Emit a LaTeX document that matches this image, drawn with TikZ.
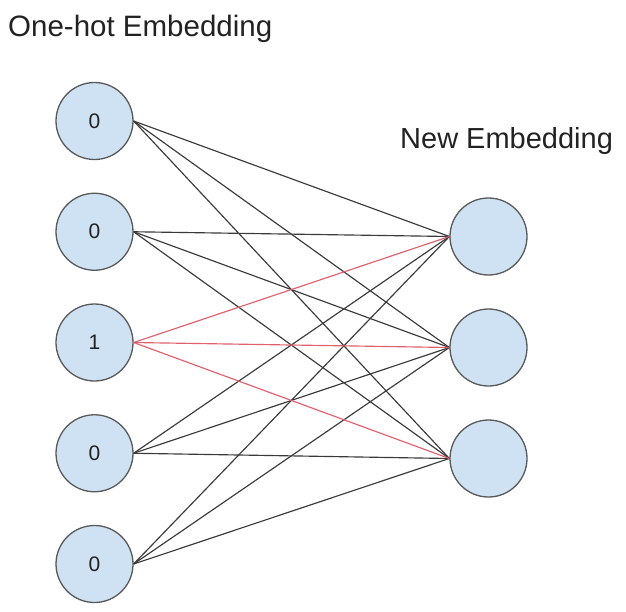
\documentclass[tikz,border=0pt]{standalone}
\usepackage{fontspec}
\setmainfont{Liberation Sans}
\definecolor{nodefill}{HTML}{CFE2F3}
\definecolor{nodeedge}{HTML}{595959}
\definecolor{linkgray}{HTML}{3A3A3A}
\definecolor{linkred}{HTML}{E0606E}
\definecolor{txt}{HTML}{222222}
\begin{document}
\begin{tikzpicture}[x=1pt,y=-1pt,
  neuron/.style={circle,draw=nodeedge,line width=1.3pt,fill=nodefill,minimum size=77pt,inner sep=0pt,
    font=\fontsize{21}{21}\selectfont,text=txt},
  link/.style={draw=linkgray,line width=1.15pt},
  hot/.style={draw=linkred,line width=1.15pt},
  title/.style={font=\fontsize{29.5}{30}\selectfont,text=txt,inner sep=0pt}]
\useasboundingbox (0,0) rectangle (626,611);
\fill[white] (0,0) rectangle (626,611);
\node[title,anchor=base west] (t1) at (8,36) {One-hot Embedding};
\node[title,anchor=base west,font=\fontsize{29}{30}\selectfont] (t2) at (400,148) {New Embedding};
\node[neuron] (l1) at (94.5,121) {0};
\node[neuron] (l2) at (94.5,231.75) {0};
\node[neuron] (l3) at (94.5,342.5) {1};
\node[neuron] (l4) at (94.5,453.25) {0};
\node[neuron] (l5) at (94.5,564) {0};
\node[neuron] (r1) at (488.5,236.5) {};
\node[neuron] (r2) at (488.5,347.5) {};
\node[neuron] (r3) at (488.5,458.5) {};
\foreach \l in {l1,l2,l4,l5}{
  \foreach \r in {r1,r2,r3}{
    \draw[link] (\l.east) -- (\r.west);
  }
}
\foreach \r in {r1,r2,r3}{
  \draw[hot] (l3.east) -- (\r.west);
}
\end{tikzpicture}
\end{document}
